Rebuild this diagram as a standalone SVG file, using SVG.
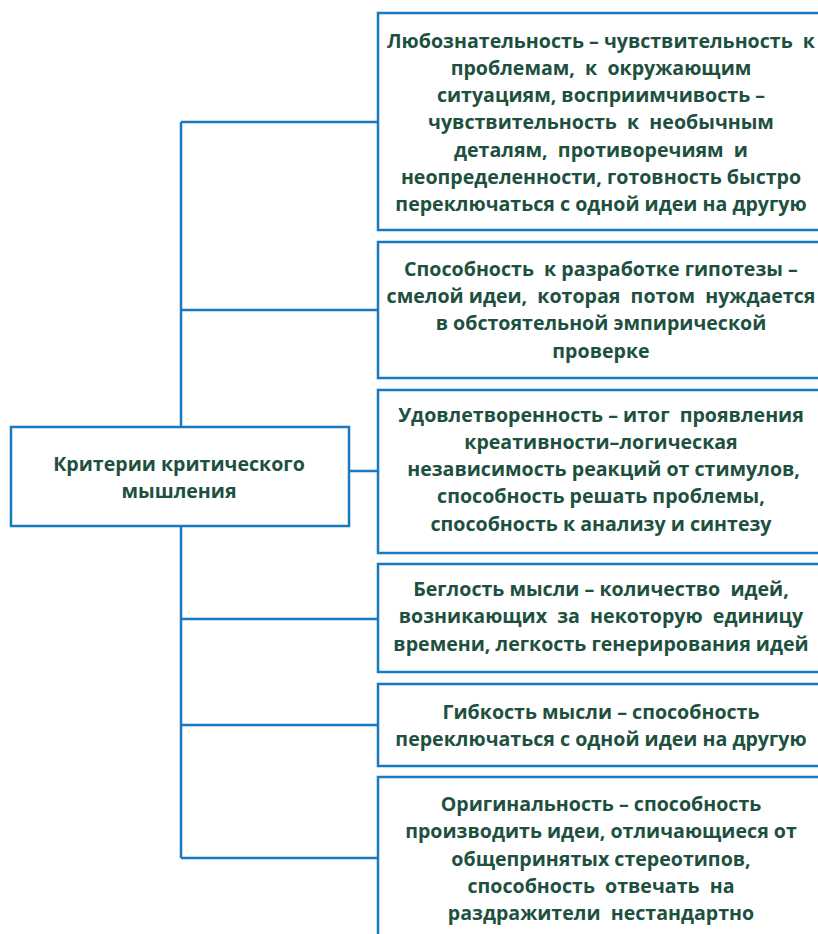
<svg xmlns="http://www.w3.org/2000/svg" width="818" height="934" viewBox="0 0 818 934" xml:space="preserve">
<style>
.box{fill:#ffffff;stroke:#1a7abf;stroke-width:2.5}
.ln{fill:none;stroke:#1a7abf;stroke-width:2.5}
text{font-family:"Open Sans","Noto Sans","DejaVu Sans",sans-serif;font-weight:700;font-size:19.6px;fill:#1e5040;text-anchor:middle;white-space:pre}
</style>
<rect width="818" height="934" fill="#ffffff"/>
<g id="connectors">
<path class="ln" d="M181,122 V427 M181,526 V858"/>
<path class="ln" d="M181,122 H378 M181,310 H378 M349,471 H378 M181,619 H378 M181,725 H378 M181,858 H378"/>
</g>
<g id="root">
<rect class="box" x="11" y="427" width="338" height="99"/>
<text x="179" y="471">Критерии критического</text>
<text x="179" y="498">мышления</text>
</g>
<g id="n1">
<rect class="box" x="378" y="13" width="450" height="217"/>
<text x="601" y="48">Любознательность – чувствительность  к</text>
<text x="601" y="75">проблемам,  к  окружающим</text>
<text x="601" y="102">ситуациям, восприимчивость –</text>
<text x="601" y="129">чувствительность  к  необычным</text>
<text x="601" y="157">деталям,  противоречиям  и</text>
<text x="601" y="184">неопределенности, готовность быстро</text>
<text x="601" y="211">переключаться с одной идеи на другую</text>
</g>
<g id="n2">
<rect class="box" x="378" y="242" width="450" height="136"/>
<text x="601" y="276">Способность  к разработке гипотезы –</text>
<text x="601" y="303">смелой идеи,  которая  потом  нуждается</text>
<text x="601" y="330">в обстоятельной эмпирической</text>
<text x="601" y="358">проверке</text>
</g>
<g id="n3">
<rect class="box" x="378" y="390" width="450" height="163"/>
<text x="601" y="422">Удовлетворенность – итог  проявления</text>
<text x="601" y="449">креативности–логическая</text>
<text x="601" y="476"> независимость реакций от стимулов,</text>
<text x="601" y="503">способность решать проблемы,</text>
<text x="601" y="531">способность к анализу и синтезу</text>
</g>
<g id="n4">
<rect class="box" x="378" y="564" width="450" height="108"/>
<text x="601" y="596">Беглость мысли – количество  идей,</text>
<text x="601" y="623">возникающих  за  некоторую  единицу</text>
<text x="601" y="651">времени, легкость генерирования идей</text>
</g>
<g id="n5">
<rect class="box" x="378" y="684" width="450" height="82"/>
<text x="601" y="719">Гибкость мысли – способность</text>
<text x="601" y="746">переключаться с одной идеи на другую</text>
</g>
<g id="n6">
<rect class="box" x="378" y="777" width="450" height="170"/>
<text x="601" y="811">Оригинальность – способность</text>
<text x="601" y="838">производить идеи, отличающиеся от</text>
<text x="601" y="866">общепринятых стереотипов,</text>
<text x="601" y="893">способность  отвечать  на</text>
<text x="601" y="920">раздражители  нестандартно</text>
</g>
</svg>
